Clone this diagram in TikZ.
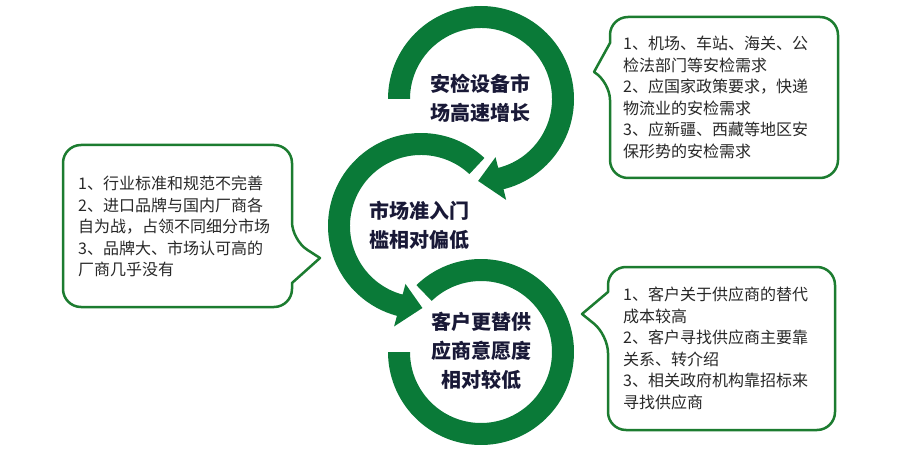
\documentclass[tikz,border=0pt]{standalone}
\usepackage{fontspec}
\usepackage{tikz}
\usetikzlibrary{calc}
\newfontfamily\cjk{Noto Sans CJK SC}
\definecolor{ringgreen}{RGB}{10,122,56}
\definecolor{bordergreen}{RGB}{28,124,48}
\definecolor{darknavy}{RGB}{25,25,55}
\definecolor{textgray}{RGB}{40,40,40}

\begin{document}
\begin{tikzpicture}[x=1pt, y=1pt,
        ring/.style={fill=ringgreen},
        bubble/.style={draw=bordergreen, line width=2.5pt, fill=white, line join=round},
        stage/.style={font=\cjk\bfseries\fontsize{20}{29}\selectfont, text=darknavy,
                      align=center, inner sep=0pt},
        note/.style={font=\cjk\fontsize{16}{21.5}\selectfont, text=textgray,
                     align=left, inner sep=0pt, anchor=west}
    ]
    \useasboundingbox (0,0) rectangle (908,448);

    \coordinate (ctop) at (481,349);
    \coordinate (cmid) at (421,222);
    \coordinate (cbot) at (481,96);

    \fill[ring] ($(ctop)+(180:93)$) arc[start angle=180, end angle=-76, radius=93]
      -- ($(ctop)+(-76:104)$) -- ($(ctop)+(-92:82)$) -- ($(ctop)+(-76:60)$)
      -- ($(ctop)+(-76:71)$) arc[start angle=-76, end angle=180, radius=71] -- cycle;

    \fill[ring] ($(cmid)+(47:93)$) arc[start angle=47, end angle=255, radius=93]
      -- ($(cmid)+(255:104)$) -- ($(cmid)+(271:82)$) -- ($(cmid)+(255:60)$)
      -- ($(cmid)+(255:71)$) arc[start angle=255, end angle=47, radius=71] -- cycle;

    \fill[ring] ($(cbot)+(134:93)$) arc[start angle=134, end angle=-180, radius=93]
      -- ($(cbot)+(180:71)$) arc[start angle=-180, end angle=134, radius=71] -- cycle;

    \node[stage] (growth) at (480,350) {安检设备市\\场高速增长};
    \node[stage] (barrier) at (419,223) {市场准入门\\槛相对偏低};
    \node[stage] (switching) at (481,97) {客户更替供\\应商意愿度\\相对较低};

    \draw[bubble] (610,405) [rounded corners=18pt] -- (610,431) -- (838,431) -- (838,270)
      -- (610,270) -- (610,366) [sharp corners] -- (594,376) -- cycle;
    \draw[bubble] (292,165) [rounded corners=18pt] -- (292,141) -- (63,141) -- (63,303)
      -- (292,303) -- (292,208) [sharp corners] -- (320,190) -- cycle;
    \draw[bubble] (608,156) [rounded corners=18pt] -- (608,181) -- (835,181) -- (835,18)
      -- (608,18) -- (608,113) [sharp corners] -- (582,134) -- cycle;

    \node[note] (demand) at (623,350.5)
      {1、机场、车站、海关、公\\检法部门等安检需求\\2、应国家政策要求，快递\\物流业的安检需求\\3、应新疆、西藏等地区安\\保形势的安检需求};
    \node[note] (market) at (78,221.5)
      {1、行业标准和规范不完善\\2、进口品牌与国内厂商各\\自为战，占领不同细分市场\\3、品牌大、市场认可高的\\厂商几乎没有};
    \node[note] (supplier) at (623,99.5)
      {1、客户关于供应商的替代\\成本较高\\2、客户寻找供应商主要靠\\关系、转介绍\\3、相关政府机构靠招标来\\寻找供应商};
\end{tikzpicture}
\end{document}
